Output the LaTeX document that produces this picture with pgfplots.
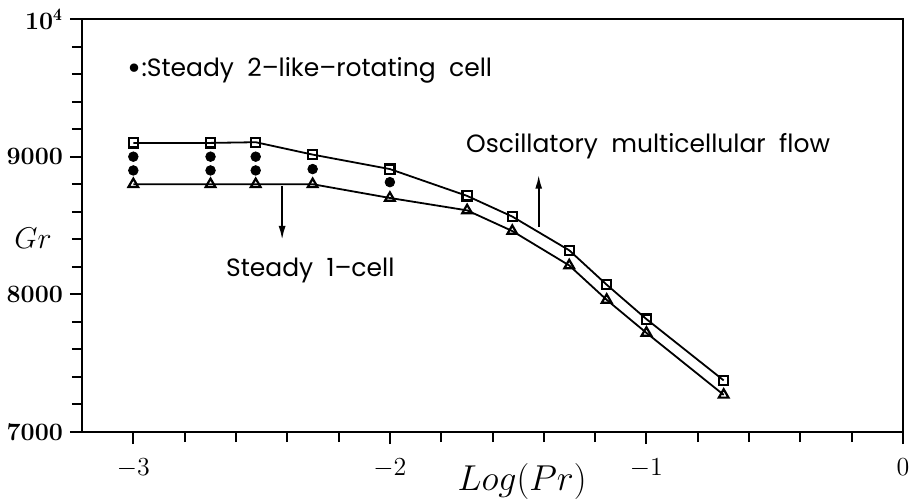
\RequirePackage{fix-cm}
\documentclass[border=0pt]{standalone}
\usepackage{fontspec}
\usepackage{pgfplots}
\pgfplotsset{compat=1.18}
\usetikzlibrary{calc,arrows.meta}
\newfontfamily\annotfont{Poppins}

\begin{document}
\begin{tikzpicture}
\begin{axis}[
  name=ax,
  scale only axis,
  width=410.5pt, height=206.5pt,
  xmin=-3.2, xmax=0, ymin=7000, ymax=10000,
  clip=false,
  scaled y ticks=false,
  axis line style={line width=1.1pt},
  xtick={-3,-2,-1,0},
  xticklabels={$-3$,$-2$,$-1$,$0$},
  minor x tick num=4,
  ytick={7000,8000,9000,10000},
  yticklabels={\textbf{7000},\textbf{8000},\textbf{9000},\textbf{10}$^{\mathbf{4}}$},
  minor y tick num=4,
  xtick pos=left, ytick pos=left,
  tick align=outside,
  major tick length=6pt, minor tick length=5pt,
  tick style={line width=1pt, black},
  x tick label style={font=\fontsize{13}{15}\selectfont, yshift=-4pt},
  y tick label style={font=\fontsize{12.5}{15}\selectfont},
  xlabel={$Log(Pr)$},
  xlabel style={font=\fontsize{18}{20}\selectfont, at={(axis description cs:0.536,0)}, anchor=base, yshift=-29pt},
  ylabel={$Gr$},
  ylabel style={font=\fontsize{15}{17}\selectfont, rotate=-90, at={(axis description cs:0,0.47)}, anchor=center, xshift=-24.5pt},
]
% upper boundary: onset of oscillatory flow
\addplot[black, line width=0.9pt, mark=square, mark size=2.3pt,
         mark options={line width=1.1pt, fill=white, solid}]
  coordinates {
  (-3.000,9100) (-2.699,9100) (-2.523,9105) (-2.301,9015) (-2.000,8910)
  (-1.699,8715) (-1.523,8565) (-1.301,8320) (-1.155,8070) (-1.000,7820)
  (-0.699,7375)
  };
% lower boundary: steady one-cell flow
\addplot[black, line width=0.9pt, mark=triangle, mark size=2.8pt,
         mark options={line width=1.1pt, fill=white, solid}]
  coordinates {
  (-3.000,8800) (-2.699,8800) (-2.523,8800) (-2.301,8800) (-2.000,8700)
  (-1.699,8610) (-1.523,8460) (-1.301,8210) (-1.155,7960) (-1.000,7720)
  (-0.699,7270)
  };
% steady 2-like-rotating cell states
\addplot[only marks, black, mark=*, mark size=2.4pt]
  coordinates {
  (-3.000,9000) (-3.000,8900) (-2.699,9000) (-2.699,8900)
  (-2.523,9000) (-2.523,8900) (-2.301,8910) (-2.000,8815)
  };

\draw[line width=1pt, -{Latex[length=7pt,width=3.5pt]}]
  (axis cs:-2.42,8784) -- (axis cs:-2.42,8395);
\draw[line width=1pt, -{Latex[length=7pt,width=3.5pt]}]
  (axis cs:-1.42,8491) -- (axis cs:-1.42,8869);

\node[anchor=base west, inner sep=0, font=\annotfont\fontsize{12.5}{14}\selectfont]
  at (axis cs:-3.024,9579) {\raisebox{-1.3pt}{\fontsize{17}{17}\selectfont •}:Steady\ \ 2–like–rotating\ \ cell};
\node[anchor=base west, inner sep=0, font=\annotfont\fontsize{12.5}{14}\selectfont]
  at (axis cs:-1.704,9029) {Oscillatory\ \ multicellular\ \ flow};
\node[anchor=base west, inner sep=0, font=\annotfont\fontsize{12.5}{14}\selectfont]
  at (axis cs:-2.64,8128) {Steady\ \ 1–cell};
\end{axis}
\pgfresetboundingbox
\path[use as bounding box] ($(ax.south west)+(-41pt,-33.5pt)$) rectangle ($(ax.north east)+(4.5pt,9.5pt)$);
\end{tikzpicture}
\end{document}
